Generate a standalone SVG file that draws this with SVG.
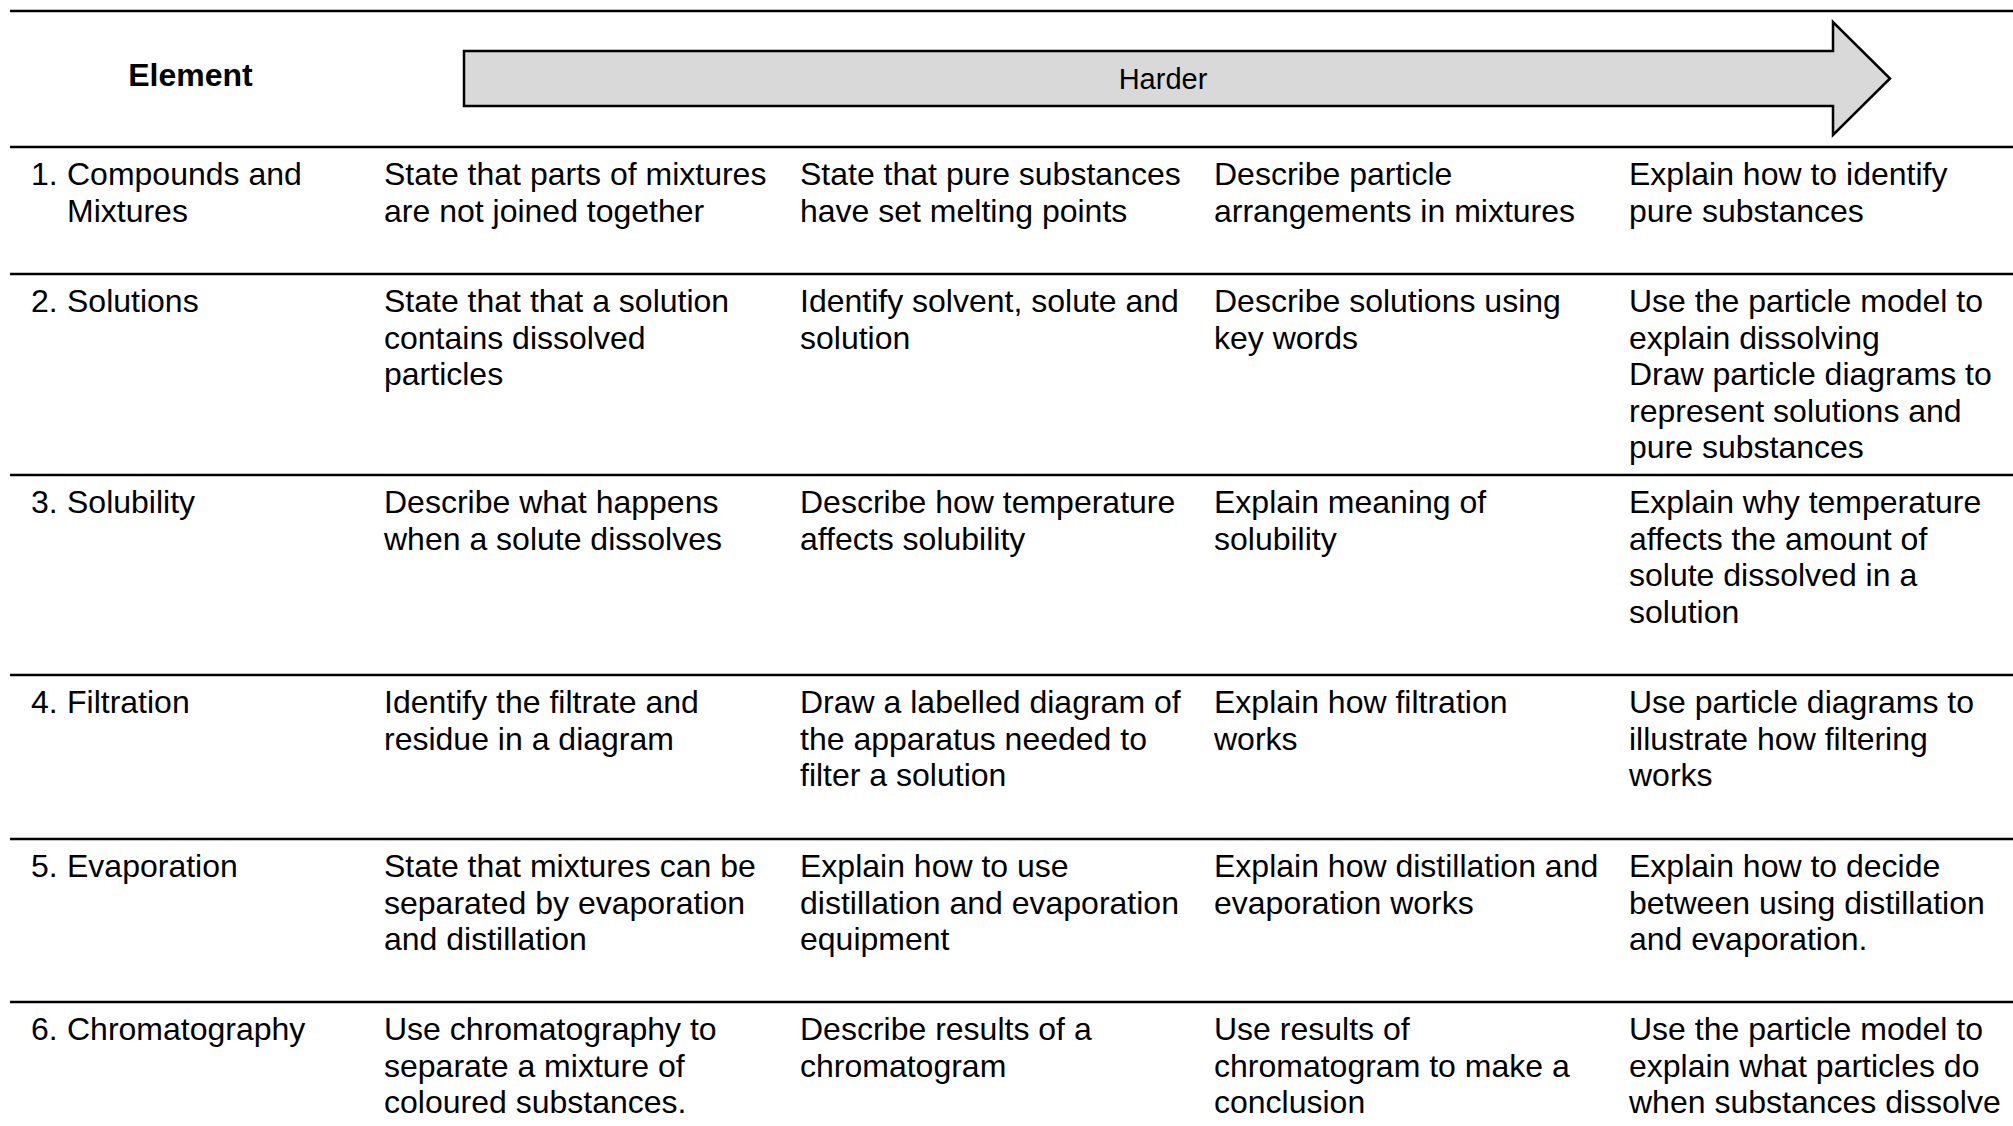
<svg xmlns="http://www.w3.org/2000/svg" width="2013" height="1126" viewBox="0 0 2013 1126">
<style>
text{font-family:"Liberation Sans",Arial,sans-serif;font-size:32px;fill:#000}
.b{font-weight:bold}
.h{font-size:29px}
.rule{stroke:#000;stroke-width:2.5;fill:none}
.arrow{fill:#d9d9d9;stroke:#000;stroke-width:2.5;stroke-linejoin:miter}
</style>
<rect width="2013" height="1126" fill="#fff"/>
<g id="rules">
<line class="rule" x1="10" y1="11" x2="2013" y2="11"/>
<line class="rule" x1="10" y1="147" x2="2013" y2="147"/>
<line class="rule" x1="10" y1="274" x2="2013" y2="274"/>
<line class="rule" x1="10" y1="475" x2="2013" y2="475"/>
<line class="rule" x1="10" y1="675" x2="2013" y2="675"/>
<line class="rule" x1="10" y1="839" x2="2013" y2="839"/>
<line class="rule" x1="10" y1="1002" x2="2013" y2="1002"/>
</g>
<g id="header">
<text class="b" x="190.5" y="86" text-anchor="middle">Element</text>
<g id="harder-arrow">
<polygon class="arrow" points="464,51 1833,51 1833,22 1890,78.5 1833,135 1833,106 464,106"/>
<text class="h" x="1163" y="89" text-anchor="middle">Harder</text>
</g>
</g>
<g id="row1">
<text x="31" y="185">1.</text>
<text x="67" y="185">Compounds and</text>
<text x="67" y="222">Mixtures</text>
<text x="384" y="185">State that parts of mixtures</text>
<text x="384" y="222">are not joined together</text>
<text x="800" y="185">State that pure substances</text>
<text x="800" y="222">have set melting points</text>
<text x="1214" y="185">Describe particle</text>
<text x="1214" y="222">arrangements in mixtures</text>
<text x="1629" y="185">Explain how to identify</text>
<text x="1629" y="222">pure substances</text>
</g>
<g id="row2">
<text x="31" y="312">2.</text>
<text x="67" y="312">Solutions</text>
<text x="384" y="312">State that that a solution</text>
<text x="384" y="349">contains dissolved</text>
<text x="384" y="385">particles</text>
<text x="800" y="312">Identify solvent, solute and</text>
<text x="800" y="349">solution</text>
<text x="1214" y="312">Describe solutions using</text>
<text x="1214" y="349">key words</text>
<text x="1629" y="312">Use the particle model to</text>
<text x="1629" y="349">explain dissolving</text>
<text x="1629" y="385">Draw particle diagrams to</text>
<text x="1629" y="422">represent solutions and</text>
<text x="1629" y="458">pure substances</text>
</g>
<g id="row3">
<text x="31" y="513">3.</text>
<text x="67" y="513">Solubility</text>
<text x="384" y="513">Describe what happens</text>
<text x="384" y="550">when a solute dissolves</text>
<text x="800" y="513">Describe how temperature</text>
<text x="800" y="550">affects solubility</text>
<text x="1214" y="513">Explain meaning of</text>
<text x="1214" y="550">solubility</text>
<text x="1629" y="513">Explain why temperature</text>
<text x="1629" y="550">affects the amount of</text>
<text x="1629" y="586">solute dissolved in a</text>
<text x="1629" y="623">solution</text>
</g>
<g id="row4">
<text x="31" y="713">4.</text>
<text x="67" y="713">Filtration</text>
<text x="384" y="713">Identify the filtrate and</text>
<text x="384" y="750">residue in a diagram</text>
<text x="800" y="713">Draw a labelled diagram of</text>
<text x="800" y="750">the apparatus needed to</text>
<text x="800" y="786">filter a solution</text>
<text x="1214" y="713">Explain how filtration</text>
<text x="1214" y="750">works</text>
<text x="1629" y="713">Use particle diagrams to</text>
<text x="1629" y="750">illustrate how filtering</text>
<text x="1629" y="786">works</text>
</g>
<g id="row5">
<text x="31" y="877">5.</text>
<text x="67" y="877">Evaporation</text>
<text x="384" y="877">State that mixtures can be</text>
<text x="384" y="914">separated by evaporation</text>
<text x="384" y="950">and distillation</text>
<text x="800" y="877">Explain how to use</text>
<text x="800" y="914">distillation and evaporation</text>
<text x="800" y="950">equipment</text>
<text x="1214" y="877">Explain how distillation and</text>
<text x="1214" y="914">evaporation works</text>
<text x="1629" y="877">Explain how to decide</text>
<text x="1629" y="914">between using distillation</text>
<text x="1629" y="950">and evaporation.</text>
</g>
<g id="row6">
<text x="31" y="1040">6.</text>
<text x="67" y="1040">Chromatography</text>
<text x="384" y="1040">Use chromatography to</text>
<text x="384" y="1077">separate a mixture of</text>
<text x="384" y="1113">coloured substances.</text>
<text x="800" y="1040">Describe results of a</text>
<text x="800" y="1077">chromatogram</text>
<text x="1214" y="1040">Use results of</text>
<text x="1214" y="1077">chromatogram to make a</text>
<text x="1214" y="1113">conclusion</text>
<text x="1629" y="1040">Use the particle model to</text>
<text x="1629" y="1077">explain what particles do</text>
<text x="1629" y="1113">when substances dissolve</text>
</g>
</svg>
